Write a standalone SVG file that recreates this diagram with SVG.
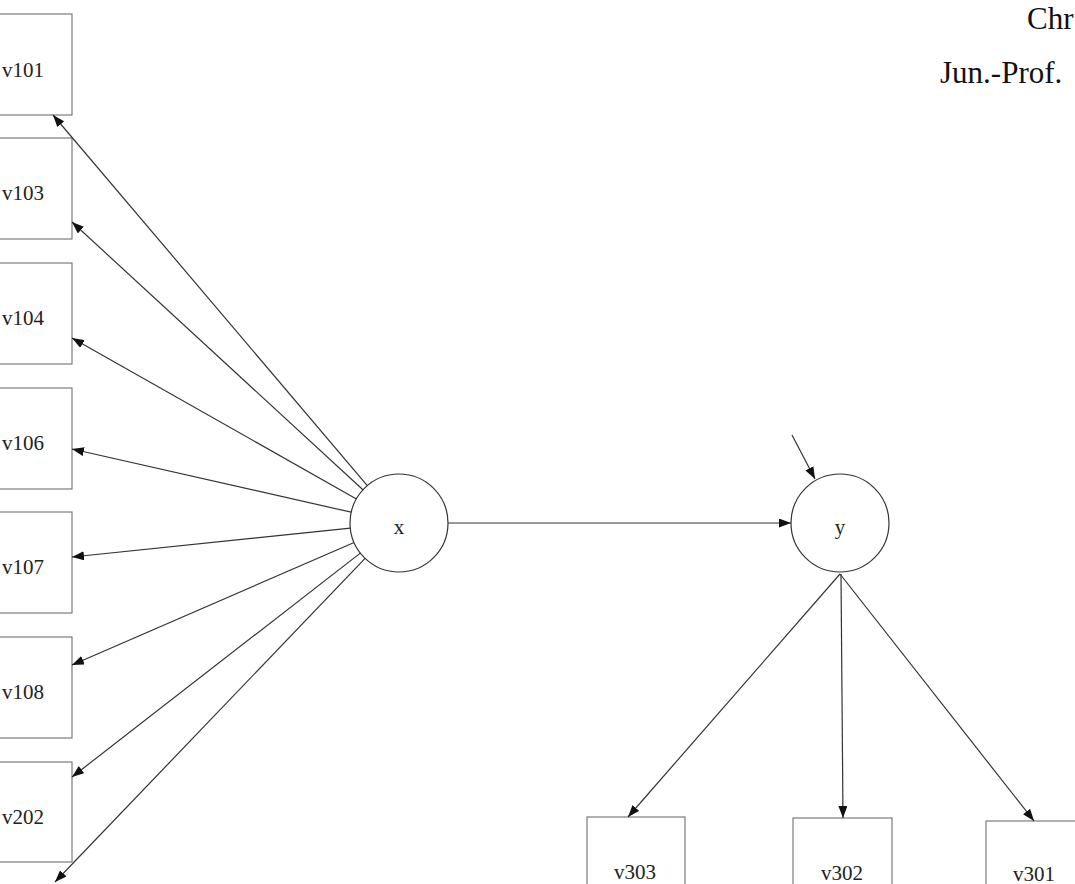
<svg xmlns="http://www.w3.org/2000/svg" width="1075" height="884" viewBox="0 0 1075 884">
  <style>
    .box { fill: #ffffff; stroke: #707070; stroke-width: 1.1; }
    .lat { fill: #ffffff; stroke: #333333; stroke-width: 1.2; }
    .lbl { font-family: "Liberation Serif", "Times New Roman", serif; font-size: 21px; fill: #222222; text-anchor: middle; }
    .hdr { font-family: "Liberation Serif", "Times New Roman", serif; font-size: 31px; fill: #111111; }
    .edge { stroke: #333333; stroke-width: 1.2; fill: none; marker-end: url(#arrow); }
  </style>
  <defs>
    <marker id="arrow" viewBox="0 0 12 9" refX="12" refY="4.5" markerWidth="12" markerHeight="9" markerUnits="userSpaceOnUse" orient="auto">
      <path d="M0,0 L12,4.5 L0,9 Z" fill="#111111"/>
    </marker>
  </defs>

  <rect width="1075" height="884" fill="#ffffff"/>

  <!-- header text -->
  <text class="hdr" x="1027" y="29">Chr</text>
  <text class="hdr" x="940" y="83">Jun.-Prof.</text>

  <!-- indicators of x -->
  <g id="v101"><rect class="box" x="-26" y="14" width="98" height="101"/><text class="lbl" x="23" y="77">v101</text></g>
  <g id="v103"><rect class="box" x="-26" y="138" width="98" height="101"/><text class="lbl" x="23" y="200">v103</text></g>
  <g id="v104"><rect class="box" x="-26" y="263" width="98" height="101"/><text class="lbl" x="23" y="325">v104</text></g>
  <g id="v106"><rect class="box" x="-26" y="388" width="98" height="101"/><text class="lbl" x="23" y="450">v106</text></g>
  <g id="v107"><rect class="box" x="-26" y="512" width="98" height="101"/><text class="lbl" x="23" y="574">v107</text></g>
  <g id="v108"><rect class="box" x="-26" y="637" width="98" height="101"/><text class="lbl" x="23" y="699">v108</text></g>
  <g id="v202"><rect class="box" x="-26" y="762" width="98" height="100"/><text class="lbl" x="23" y="824">v202</text></g>

  <!-- latent variables -->
  <g id="x"><circle class="lat" cx="399" cy="523" r="49"/><text class="lbl" x="399" y="534">x</text></g>
  <g id="y"><circle class="lat" cx="840" cy="523" r="49"/><text class="lbl" x="840" y="534">y</text></g>

  <!-- indicators of y -->
  <g id="v303"><rect class="box" x="587" y="817" width="98" height="100"/><text class="lbl" x="635" y="879">v303</text></g>
  <g id="v302"><rect class="box" x="793" y="818" width="99" height="100"/><text class="lbl" x="842" y="880">v302</text></g>
  <g id="v301"><rect class="box" x="986" y="821" width="98" height="100"/><text class="lbl" x="1034" y="881">v301</text></g>

  <!-- paths -->
  <g id="connectors">
    <line class="edge" x1="367.3" y1="485.6" x2="53" y2="115"/>
    <line class="edge" x1="362.9" y1="489.8" x2="72" y2="222"/>
    <line class="edge" x1="356.4" y1="498.9" x2="72" y2="338"/>
    <line class="edge" x1="351.2" y1="512.2" x2="72" y2="449"/>
    <line class="edge" x1="350.3" y1="528.1" x2="72" y2="557"/>
    <line class="edge" x1="354.1" y1="542.5" x2="72" y2="665"/>
    <line class="edge" x1="360.3" y1="553.1" x2="72" y2="777"/>
    <line class="edge" x1="365.1" y1="558.4" x2="55" y2="882"/>
    <line class="edge" x1="448" y1="523" x2="791" y2="523"/>
    <line class="edge" x1="792" y1="435" x2="815" y2="479"/>
    <line class="edge" x1="840" y1="574" x2="628" y2="817"/>
    <line class="edge" x1="841" y1="574" x2="843" y2="818"/>
    <line class="edge" x1="840" y1="574" x2="1034" y2="821"/>
  </g>
</svg>
